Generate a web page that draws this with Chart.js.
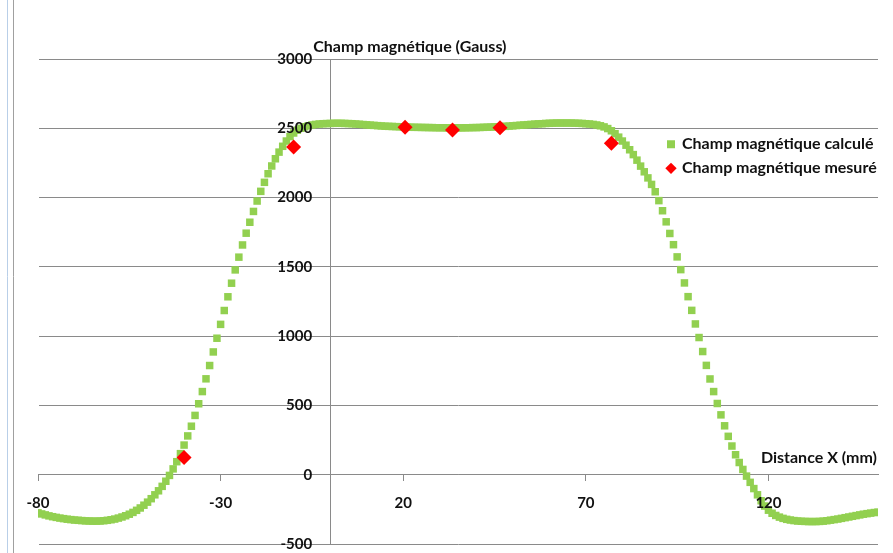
<!DOCTYPE html>
<html><head><meta charset="utf-8">
<script src="https://cdn.jsdelivr.net/npm/chart.js@4.4.1/dist/chart.umd.min.js"></script>
<style>html,body{margin:0;padding:0;background:#fff;}#wrap{position:relative;width:893px;height:553px;}</style>
</head><body><div id="wrap"><canvas id="c"></canvas></div>
<script>
// ---- data ----
const distanceX = [
-80,-79,-78,-77,-76,-75,-74,-73,-72,-71,-70,-69,-68,-67,-66,-65,-64,-63,-62,-61,
-60,-59,-58,-57,-56,-55,-54,-53,-52,-51,-50,-49,-48,-47,-46,-45,-44,-43,-42,-41,
-40,-39,-38,-37,-36,-35,-34,-33,-32,-31,-30,-29,-28,-27,-26,-25,-24,-23,-22,-21,
-20,-19,-18,-17,-16,-15,-14,-13,-12,-11,-10,-9,-8,-7,-6,-5,-4,-3,-2,-1,
0,1,2,3,4,5,6,7,8,9,10,11,12,13,14,15,16,17,18,19,
20,21,22,23,24,25,26,27,28,29,30,31,32,33,34,35,36,37,38,39,
40,41,42,43,44,45,46,47,48,49,50,51,52,53,54,55,56,57,58,59,
60,61,62,63,64,65,66,67,68,69,70,71,72,73,74,75,76,77,78,79,
80,81,82,83,84,85,86,87,88,89,90,91,92,93,94,95,96,97,98,99,
100,101,102,103,104,105,106,107,108,109,110,111,112,113,114,115,116,117,118,119,
120,121,122,123,124,125,126,127,128,129,130,131,132,133,134,135,136,137,138,139,
140,141,142,143,144,145,146,147,148,149,150];
const champCalcule = [
-275,-283,-290,-297,-303,-308,-313,-317,-321,-324,-327,-329,-331,-333,-334,-335,-335,-334,-332,-329,
-325,-320,-313,-305,-296,-285,-272,-257,-240,-220,-198,-173,-145,-116,-84,-47,-5,42,94,152,
214,280,350,428,512,600,692,788,886,985,1085,1185,1284,1382,1478,1570,1658,1743,1822,1900,
1975,2045,2110,2172,2228,2280,2328,2370,2408,2440,2466,2486,2500,2511,2518,2524,2528,2531,2533,2534,
2535,2536,2536,2536,2535,2534,2533,2531,2529,2527,2525,2523,2521,2519,2517,2515,2514,2513,2512,2511,
2510,2509,2508,2507,2507,2506,2506,2505,2505,2504,2504,2504,2503,2503,2503,2503,2503,2504,2504,2505,
2505,2506,2507,2508,2509,2510,2511,2513,2514,2516,2518,2520,2522,2524,2526,2528,2530,2532,2533,2535,
2536,2537,2538,2538,2538,2538,2538,2537,2536,2535,2533,2531,2528,2524,2518,2510,2498,2482,2461,2436,
2408,2378,2345,2310,2270,2227,2186,2142,2095,2042,1978,1905,1825,1741,1660,1572,1480,1384,1285,1186,
1088,990,889,789,691,600,514,432,353,277,207,144,88,38,-10,-55,-100,-145,-188,-226,
-256,-278,-294,-306,-315,-322,-327,-331,-334,-336,-337,-338,-338,-338,-337,-335,-332,-328,-324,-320,
-315,-310,-305,-300,-295,-290,-285,-281,-277,-273,-270];
const mesureX = [-40, -10, 20.5, 33.5, 46.5, 77];
const champMesure = [125, 2365, 2508, 2488, 2503, 2392];
const xTickValues = [-80, -30, 20, 70, 120];
const yTickValues = [-500, 0, 500, 1000, 1500, 2000, 2500, 3000];
const seriesLabels = ['Champ magnétique calculé', 'Champ magnétique mesuré'];
const xAxisTitle = 'Distance X (mm)';
const yAxisTitle = 'Champ magnétique (Gauss)';

// ---- styling ----
const TICK_FONT = {family: 'Lato', size: 15, weight: 'bold'};
const TEXT_FONT = {family: 'Lato', size: 16, weight: 'bold'};
const GRID = '#8a8a8a';
const TXT = '#111111';

const framePlugin = {
  id: 'frame',
  beforeDraw(chart) {
    const ctx = chart.ctx;
    ctx.save();
    ctx.fillStyle = '#ffffff';
    ctx.fillRect(0, 0, chart.width, chart.height);
    ctx.lineWidth = 1;
    ctx.strokeStyle = '#b9cfe8';
    ctx.beginPath(); ctx.moveTo(7.5, 0); ctx.lineTo(7.5, chart.height); ctx.stroke();
    ctx.strokeStyle = '#a0a0a0';
    ctx.beginPath(); ctx.moveTo(13.5, 0); ctx.lineTo(13.5, chart.height); ctx.stroke();
    ctx.restore();
  }
};

const axisTitlePlugin = {
  id: 'axisTitles',
  afterDraw(chart) {
    const ctx = chart.ctx, ca = chart.chartArea;
    const xs = chart.scales.x, ys = chart.scales.y;
    ctx.save();
    ctx.font = `${TEXT_FONT.weight} ${TEXT_FONT.size}px ${TEXT_FONT.family}`;
    ctx.fillStyle = TXT;
    ctx.textBaseline = 'middle';
    ctx.textAlign = 'left';
    ctx.fillText(yAxisTitle, xs.getPixelForValue(0) - 17, ca.top - 12);
    ctx.textAlign = 'right';
    ctx.fillText(xAxisTitle, ca.right - 1, ys.getPixelForValue(0) - 17);
    ctx.restore();
  }
};

// places the value axis on x = 0 and the legend inside the plot, at the right
const placer = {
  id: 'placer',
  afterLayout(chart) {
    const ca = chart.chartArea;
    const ys = chart.scales.y;
    const px0 = chart.scales.x.getPixelForValue(0);
    ys.left = ca.left; ys.right = px0; ys.width = px0 - ca.left;
    const lg = chart.legend;
    if (lg) {
      lg.left = ca.right - 218;
      lg.right = ca.right;
      lg.top = ys.getPixelForValue(2500);
      lg.bottom = lg.top + 120;
    }
  }
};

new Chart(document.getElementById('c'), {
  type: 'scatter',
  data: {
    datasets: [
      {
        label: seriesLabels[0],
        data: distanceX.map((x, i) => ({x: x, y: champCalcule[i]})),
        pointStyle: 'rect',
        pointRadius: 5.3,
        pointBackgroundColor: '#92D050',
        backgroundColor: '#92D050',
        borderWidth: 0,
        pointBorderWidth: 0,
        order: 2
      },
      {
        label: seriesLabels[1],
        data: mesureX.map((x, i) => ({x: x, y: champMesure[i]})),
        pointStyle: 'rectRot',
        pointRadius: 7.5,
        pointBackgroundColor: '#FF0000',
        backgroundColor: '#FF0000',
        borderWidth: 0,
        pointBorderWidth: 0,
        order: 1
      }
    ]
  },
  options: {
    responsive: true,
    maintainAspectRatio: false,
    animation: false,
    events: [],
    layout: {padding: {left: 38, right: 15, top: 59, bottom: 9}},
    plugins: {
      tooltip: {enabled: false},
      title: {display: false},
      legend: {
        display: true,
        position: 'chartArea',
        align: 'start',
        labels: {
          usePointStyle: true,
          boxWidth: 6,
          boxHeight: 8,
          padding: 8,
          color: TXT,
          font: TEXT_FONT,
          sort: (a, b) => a.datasetIndex - b.datasetIndex
        }
      }
    },
    scales: {
      x: {
        type: 'linear',
        position: {y: 0},
        min: -80,
        max: 150,
        afterBuildTicks: (s) => { s.ticks = xTickValues.map(v => ({value: v})); },
        afterFit: (s) => { s.height = 0; s.paddingLeft = 0; s.paddingRight = 0; s.paddingTop = 0; s.paddingBottom = 0; },
        grid: {drawOnChartArea: false, drawTicks: true, tickLength: 6, color: GRID, lineWidth: 1},
        border: {display: true, color: GRID, width: 1},
        ticks: {font: TICK_FONT, color: TXT, maxRotation: 0, autoSkip: false, padding: 13, z: 1,
                callback: (v) => String(v)}
      },
      y: {
        type: 'linear',
        position: 'left',
        min: -500,
        max: 3000,
        afterBuildTicks: (s) => { s.ticks = yTickValues.map(v => ({value: v})); },
        afterFit: (s) => { s.width = 0; s.paddingLeft = 0; s.paddingRight = 0; s.paddingTop = 0; s.paddingBottom = 0; },
        grid: {drawTicks: false, color: GRID, lineWidth: 1},
        border: {display: true, color: GRID, width: 1},
        ticks: {font: TICK_FONT, color: TXT, padding: 18, z: 1, callback: (v) => String(v)}
      }
    }
  },
  plugins: [framePlugin, axisTitlePlugin, placer]
});
</script>
</body></html>
